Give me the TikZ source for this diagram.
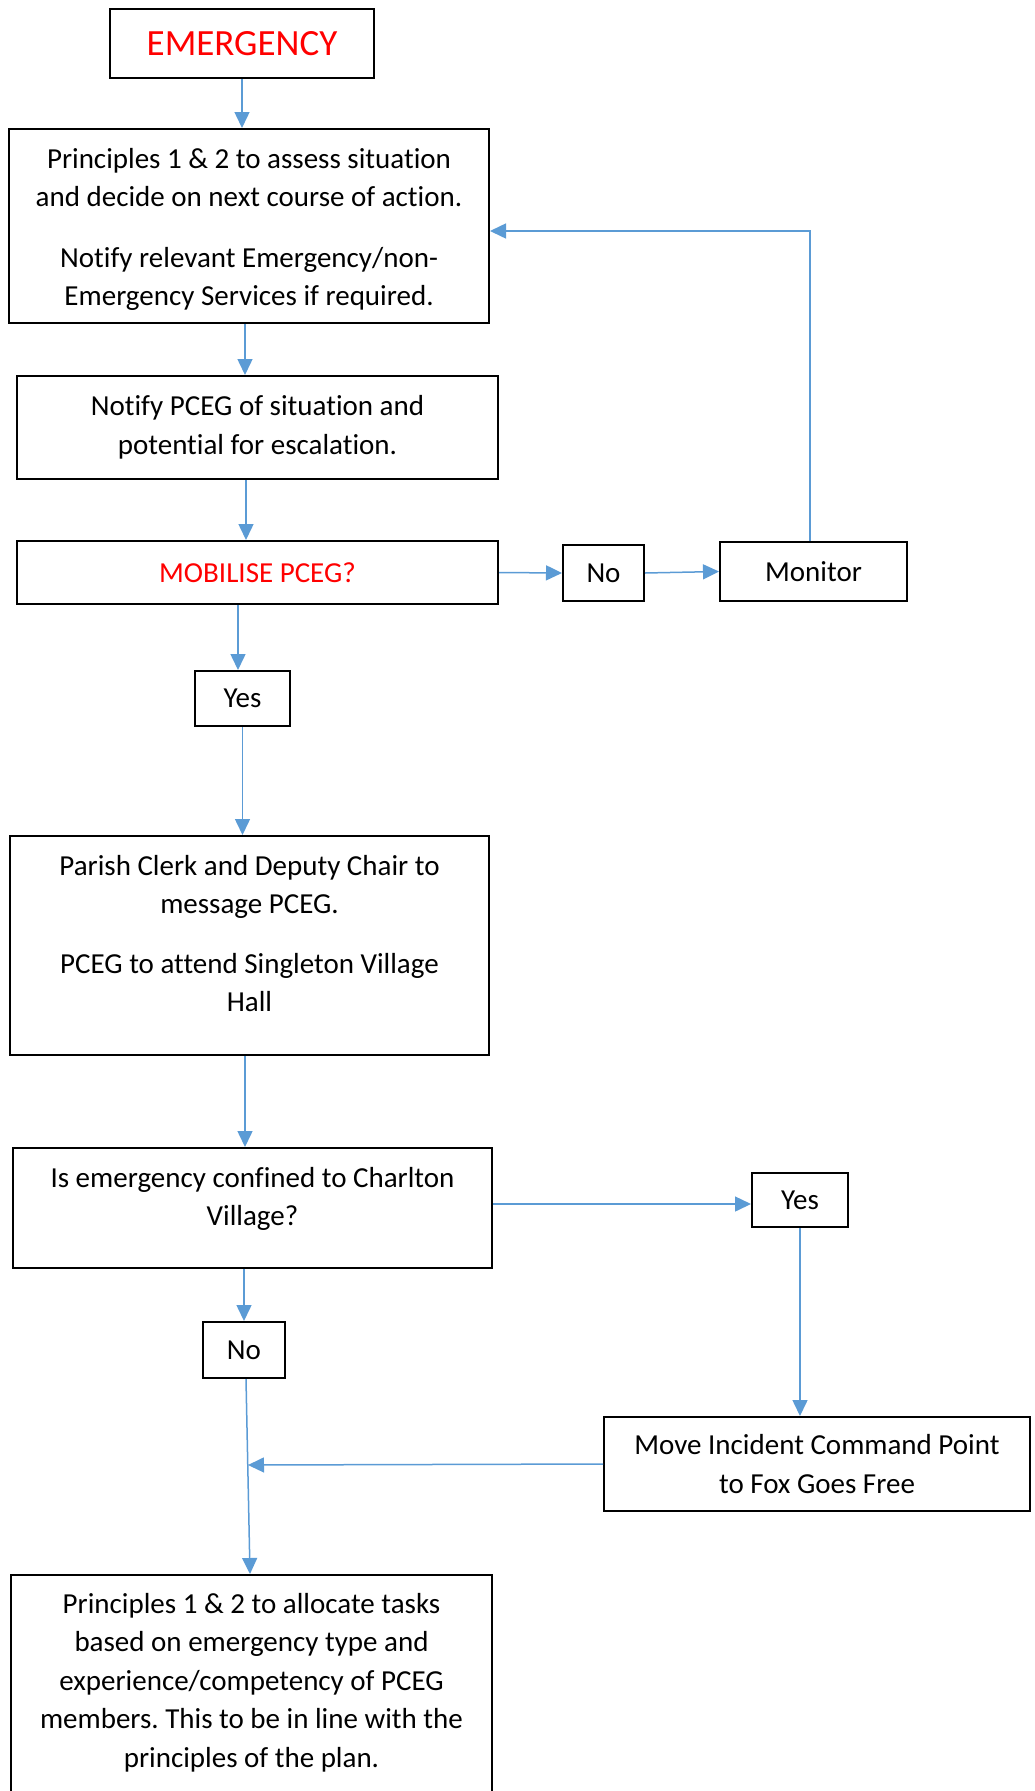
\documentclass[tikz,border=0pt]{standalone}
\usepackage{fontspec}
\setmainfont{Carlito}[Ligatures=NoCommon]
\usetikzlibrary{arrows.meta}
\definecolor{arrblue}{HTML}{5B9BD5}
\definecolor{emred}{HTML}{FF0000}
\frenchspacing
\tikzset{
  box/.style={draw=black, line width=2pt, inner sep=0pt, align=center,
    font=\fontsize{29}{38.5}\selectfont},
  txt/.style={inner sep=0pt, align=center, anchor=north,
    font=\fontsize{29}{38.5}\selectfont},
  arr/.style={draw=arrblue, line width=1.5pt, -{Triangle[length=16pt,width=15pt]}},
}
\begin{document}
\begin{tikzpicture}[x=1pt,y=-1pt]
\useasboundingbox (0,0) rectangle (1034,1791);
% boxes
\node[box, minimum width=264pt, minimum height=69pt, text=emred, font=\fontsize{37}{44}\selectfont] (em) at (242,43.5) {EMERGENCY};
\node[box, minimum width=480pt, minimum height=194pt] (b2) at (249,226) {};
\node[txt] (t2) at (249,148) {Principles 1 \& 2 to assess situation\\and decide on next course of action.\\[22pt]Notify relevant Emergency/non-\\Emergency Services if required.};
\node[box, minimum width=481pt, minimum height=103pt] (b3) at (257.5,427.5) {Notify PCEG of situation and\\potential for escalation.};
\node[box, minimum width=481pt, minimum height=63pt, text=emred] (mob) at (257.5,572.5) {MOBILISE PCEG?};
\node[box, minimum width=81pt, minimum height=56pt] (no1) at (603.5,573) {No};
\node[box, minimum width=187pt, minimum height=59pt] (mon) at (813.5,571.5) {Monitor};
\node[box, minimum width=95pt, minimum height=55pt] (yes1) at (242.5,698.5) {Yes};
\node[box, minimum width=479pt, minimum height=219pt] (parish) at (249.5,945.5) {};
\node[txt] (tp) at (249.5,855) {Parish Clerk and Deputy Chair to\\message PCEG.\\[21pt]PCEG to attend Singleton Village\\Hall};
\node[box, minimum width=479pt, minimum height=120pt] (is) at (252.5,1208) {};
\node[txt] (ti) at (252.5,1167) {Is emergency confined to Charlton\\Village?};
\node[box, minimum width=96pt, minimum height=54pt] (yes2) at (800,1200) {Yes};
\node[box, minimum width=82pt, minimum height=56pt] (no2) at (244,1350) {No};
\node[box, minimum width=426pt, minimum height=94pt] (move) at (817,1464) {Move Incident Command Point\\to Fox Goes Free};
\node[box, minimum width=481pt, minimum height=225pt] (final) at (251.5,1687.5) {};
\node[txt] (tf) at (251.5,1593) {Principles 1 \& 2 to allocate tasks\\based on emergency type and\\experience/competency of PCEG\\members. This to be in line with the\\principles of the plan.};
% connectors
\coordinate (corner) at (810,231);
\coordinate (merge) at (248,1465);
\draw[arr] (em.south) -- (em.south |- b2.north);
\draw[arr] ([xshift=-4pt]b2.south) -- ([xshift=-4pt]b2.south |- b3.north);
\draw[arr] ([xshift=-11.5pt]b3.south) -- ([xshift=-11.5pt]b3.south |- mob.north);
\draw[arr] (mob.east) -- (no1.west);
\draw[arr] (no1.east) -- (mon.west);
\draw[arr] (corner |- mon.north) -- (corner) -- (corner -| b2.east);
\draw[arr] ([xshift=-19.5pt]mob.south) -- ([xshift=-19.5pt]mob.south |- yes1.north);
\draw[arr] (yes1.south) -- (yes1.south |- parish.north);
\draw[arr] ([xshift=-4.5pt]parish.south) -- ([xshift=-4.5pt]parish.south |- is.north);
\draw[arr] ([yshift=4pt]is.east) -- ([yshift=-4pt]yes2.west);
\draw[arr] (no2.north |- is.south) -- (no2.north);
\draw[arr] (yes2.south) -- (yes2.south |- move.north);
\draw[arr] (move.west) -- (merge);
\draw[arr] ([xshift=2pt]no2.south) -- ([xshift=-1.5pt]final.north);
\end{tikzpicture}
\end{document}
